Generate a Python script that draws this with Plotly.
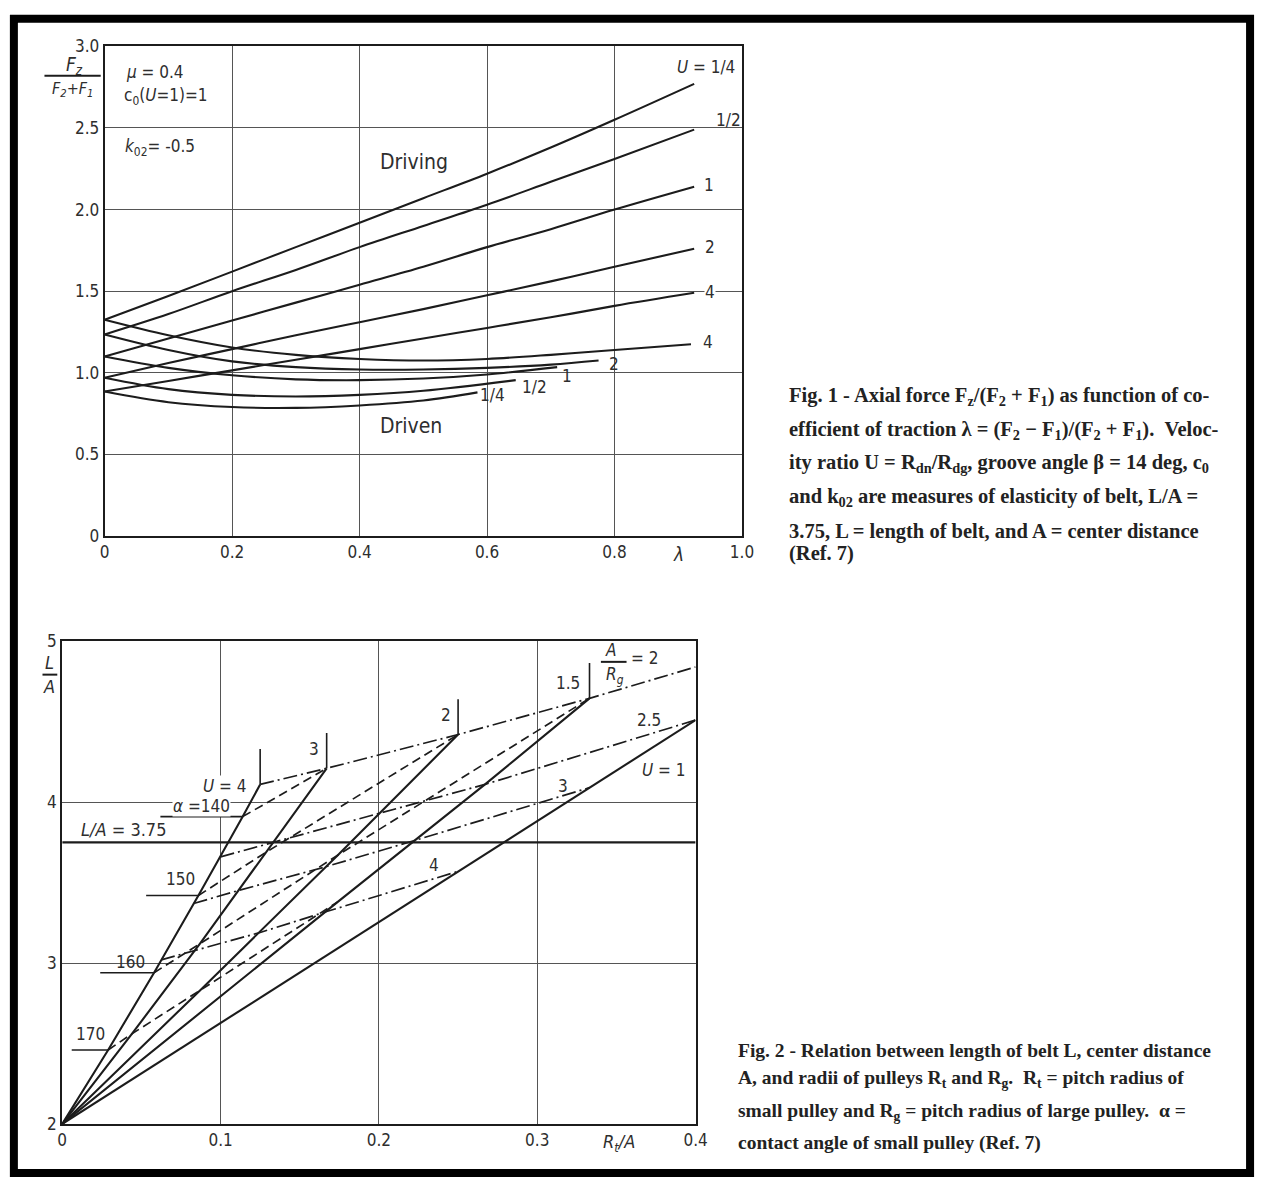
import plotly.graph_objects as go

W, H = 1267, 1190

# ---------------- Fig. 1 data ----------------
lam_driving = [0, 0.1, 0.2, 0.3, 0.4, 0.5, 0.6, 0.7, 0.8, 0.925]
driving_u14 = [1.325, 1.47, 1.62, 1.77, 1.92, 2.07, 2.22, 2.38, 2.55, 2.77]
driving_u12 = [1.235, 1.36, 1.50, 1.63, 1.77, 1.90, 2.03, 2.17, 2.31, 2.49]
driving_u1 = [1.10, 1.21, 1.32, 1.43, 1.54, 1.65, 1.77, 1.88, 2.00, 2.14]
driving_u2 = [0.97, 1.06, 1.145, 1.23, 1.31, 1.39, 1.475, 1.56, 1.65, 1.76]
driving_u4 = [0.885, 0.95, 1.015, 1.08, 1.145, 1.21, 1.275, 1.34, 1.41, 1.49]

driven_u4_x = [0, 0.1, 0.2, 0.3, 0.4, 0.5, 0.6, 0.7, 0.8, 0.92]
driven_u4 = [1.325, 1.23, 1.155, 1.11, 1.085, 1.075, 1.085, 1.11, 1.14, 1.175]
driven_u2_x = [0, 0.1, 0.2, 0.3, 0.4, 0.5, 0.6, 0.7, 0.775]
driven_u2 = [1.235, 1.14, 1.07, 1.035, 1.02, 1.02, 1.03, 1.05, 1.075]
driven_u1_x = [0, 0.1, 0.2, 0.3, 0.4, 0.5, 0.6, 0.71]
driven_u1 = [1.10, 1.03, 0.985, 0.96, 0.955, 0.965, 0.99, 1.035]
driven_u12_x = [0, 0.1, 0.2, 0.3, 0.4, 0.5, 0.645]
driven_u12 = [0.97, 0.90, 0.865, 0.855, 0.865, 0.89, 0.955]
driven_u14_x = [0, 0.1, 0.2, 0.3, 0.4, 0.5, 0.585]
driven_u14 = [0.885, 0.82, 0.79, 0.785, 0.80, 0.83, 0.88]

fig1_xticks = [0, 0.2, 0.4, 0.6, 0.8, 1.0]
fig1_xticktext = ["0", "0.2", "0.4", "0.6", "0.8", "1.0"]
fig1_yticks = [0, 0.5, 1.0, 1.5, 2.0, 2.5, 3.0]
fig1_yticktext = ["0", "0.5", "1.0", "1.5", "2.0", "2.5", "3.0"]

# ---------------- Fig. 2 data ----------------
u4_x = [0, 0.029, 0.058, 0.086, 0.114, 0.125]
u4_y = [2, 2.46, 2.94, 3.42, 3.91, 4.11]
u3_x = [0, 0.044, 0.087, 0.129, 0.167]
u3_y = [2, 2.56, 3.12, 3.69, 4.21]
u2_x = [0, 0.087, 0.174, 0.25]
u2_y = [2, 2.83, 3.67, 4.42]
u15_x = [0, 0.174, 0.267, 0.333]
u15_y = [2, 3.38, 4.11, 4.645]
u1_x = [0, 0.4]
u1_y = [2, 4.51]

arg2_x = [0.125, 0.167, 0.25, 0.333, 0.4]
arg2_y = [4.11, 4.21, 4.42, 4.645, 4.84]
arg25_x = [0.1, 0.133, 0.2, 0.267, 0.4]
arg25_y = [3.66, 3.75, 3.93, 4.11, 4.51]
arg3_x = [0.083, 0.111, 0.167, 0.222, 0.333]
arg3_y = [3.37, 3.45, 3.60, 3.76, 4.09]
arg4_x = [0.0625, 0.083, 0.125, 0.167, 0.25]
arg4_y = [3.02, 3.075, 3.19, 3.32, 3.57]

a140_x = [0.114, 0.167]
a140_y = [3.91, 4.21]
a150_x = [0.086, 0.129, 0.25]
a150_y = [3.42, 3.69, 4.42]
a160_x = [0.058, 0.087, 0.174, 0.333]
a160_y = [2.94, 3.12, 3.67, 4.645]
a170_x = [0.029, 0.044, 0.087, 0.174]
a170_y = [2.46, 2.56, 2.83, 3.38]

LA_ref = 3.75
fig2_xticks = [0, 0.1, 0.2, 0.3, 0.4]
fig2_xticktext = ["0", "0.1", "0.2", "0.3", "0.4"]
fig2_yticks = [2, 3, 4, 5]
fig2_yticktext = ["2", "3", "4", "5"]

# ---------------- styling ----------------
INK = "#1c1c1c"
GRID = "#555555"
TXT = "#2e2e2e"
SANS = "DejaVu Sans Condensed, DejaVu Sans, sans-serif"
SERIF = "Liberation Serif, Times New Roman, serif"
DASH = "9px,5px"
DASHDOT = "14px,4px,2px,4px"

fig = go.Figure()


def line(x, y, xa="x", ya="y", dash="solid", width=2.1, shape="linear"):
    fig.add_trace(go.Scatter(x=x, y=y, mode="lines", xaxis=xa, yaxis=ya,
                             line=dict(color=INK, width=width, dash=dash, shape=shape),
                             showlegend=False, hoverinfo="skip"))


# Fig 1 curves
for ys in [driving_u14, driving_u12, driving_u1, driving_u2, driving_u4]:
    line(lam_driving, ys, shape="spline")
for xs, ys in [(driven_u4_x, driven_u4), (driven_u2_x, driven_u2), (driven_u1_x, driven_u1),
               (driven_u12_x, driven_u12), (driven_u14_x, driven_u14)]:
    line(xs, ys, shape="spline")

# Fig 2 curves
for xs, ys in [(u4_x, u4_y), (u3_x, u3_y), (u2_x, u2_y), (u15_x, u15_y), (u1_x, u1_y)]:
    line(xs, ys, "x2", "y2", width=2.1)
for xs, ys in [(arg2_x, arg2_y), (arg25_x, arg25_y), (arg3_x, arg3_y), (arg4_x, arg4_y)]:
    line(xs, ys, "x2", "y2", dash=DASHDOT, width=1.7)
for xs, ys in [(a140_x, a140_y), (a150_x, a150_y), (a160_x, a160_y), (a170_x, a170_y)]:
    line(xs, ys, "x2", "y2", dash=DASH, width=1.7)

# vertical end ticks on U = 4, 3, 2, 1.5
TICK = 0.22
for xs, ys in [(u4_x, u4_y), (u3_x, u3_y), (u2_x, u2_y), (u15_x, u15_y)]:
    line([xs[-1], xs[-1]], [ys[-1], ys[-1] + TICK], "x2", "y2", width=1.6)

# L/A = 3.75 reference line
line([fig2_xticks[0], fig2_xticks[-1]], [LA_ref, LA_ref], "x2", "y2", width=2.4)

# alpha leaders (to U=4 line)
leader_start = [0.062, 0.053, 0.024, 0.006]
for xs0, xa_, ya_ in zip(leader_start, [a140_x, a150_x, a160_x, a170_x], [a140_y, a150_y, a160_y, a170_y]):
    line([xs0, xa_[0]], [ya_[0], ya_[0]], "x2", "y2", width=1.6)

# ---------------- axes ----------------
axcommon = dict(showline=True, mirror=True, linecolor=INK, linewidth=2,
                showgrid=True, gridcolor=GRID, gridwidth=1.4, zeroline=False,
                ticks="", tickfont=dict(family=SANS, size=17, color=TXT))

fig.update_layout(
    width=W, height=H, margin=dict(l=0, r=0, t=0, b=0),
    paper_bgcolor="white", plot_bgcolor="white",
    xaxis=dict(domain=[101 / W, 747 / W], range=[0, 1.0], tickvals=fig1_xticks,
               ticktext=fig1_xticktext, anchor="y", **axcommon),
    yaxis=dict(domain=[1 - 535 / H, 1 - 37 / H], range=[0, 3.0], tickvals=fig1_yticks,
               ticktext=fig1_yticktext, anchor="x", **axcommon),
    xaxis2=dict(domain=[58 / W, 700 / W], range=[0, 0.4], tickvals=fig2_xticks,
                ticktext=fig2_xticktext, anchor="y2", **axcommon),
    yaxis2=dict(domain=[1 - 1133 / H, 1 - 642 / H], range=[2, 5], tickvals=fig2_yticks,
                ticktext=fig2_yticktext, anchor="x2", **axcommon),
)

anns = []


def ann(text, px, py, size=17, xanchor="center", font=SANS, italic=False, bg=None, color=TXT):
    d = dict(text=("<i>%s</i>" % text) if italic else text, x=px / W, y=1 - py / H,
             xref="paper", yref="paper", showarrow=False, xanchor=xanchor, yanchor="middle",
             font=dict(family=font, size=size, color=color))
    if bg:
        d["bgcolor"] = bg
        d["borderpad"] = 0
    anns.append(d)


shapes = []


def pline(x0, y0, x1, y1, w=1.6):
    shapes.append(dict(type="line", xref="paper", yref="paper", x0=x0 / W, y0=1 - y0 / H,
                       x1=x1 / W, y1=1 - y1 / H, line=dict(color=INK, width=w)))


# frame
shapes.append(dict(type="rect", xref="paper", yref="paper", x0=9 / W, y0=1 - 1183 / H,
                   x1=1262 / W, y1=1 - 9 / H, line=dict(color="black", width=8)))

# --- Fig 1 texts ---
ann("F<sub>z</sub>", 70, 56, 19, italic=True)
pline(40, 67, 97, 67, 2)
ann("F<sub>2</sub>+F<sub>1</sub>", 68, 81, 16, italic=True)
ann("<i>μ</i> = 0.4", 121, 63, 17, "left")
ann("c<sub>0</sub>(<i>U</i>=1)=1", 119, 88, 17, "left")
ann("<i>k</i><sub>02</sub>= -0.5", 120, 140, 17, "left")
ann("Driving", 415, 155, 21)
ann("Driven", 412, 423, 21)
ann("λ", 683, 553, 19, italic=True)

ann("<i>U</i> = 1/4", 742, 58, 17, "right")
ann("1/2", 733, 112, 17)
ann("1", 714, 178, 17)
ann("2", 715, 241, 17)
ann("4", 715, 287, 17, bg="white")
ann("4", 713, 338, 17)
ann("2", 617, 360, 17)
ann("1", 570, 372, 17)
ann("1/2", 537, 383, 17)
ann("1/4", 494, 392, 17)

cap1 = [
    ("Fig. 1 - Axial force F<sub>z</sub>/(F<sub>2</sub> + F<sub>1</sub>) as function of co-", 393),
    ("efficient of traction λ = (F<sub>2</sub> − F<sub>1</sub>)/(F<sub>2</sub> + F<sub>1</sub>).  Veloc-", 428),
    ("ity ratio U = R<sub>dn</sub>/R<sub>dg</sub>, groove angle β = 14 deg, c<sub>0</sub>", 461),
    ("and k<sub>02</sub> are measures of elasticity of belt, L/A =", 496),
    ("3.75, L = length of belt, and A = center distance", 530),
    ("(Ref. 7)", 553),
]
for t, y in cap1:
    ann("<b>%s</b>" % t, 793, y, 20.5, "left", font=SERIF, color="#222")

# --- Fig 2 texts ---
ann("L", 45, 664, 18, italic=True)
pline(38, 676, 53, 676, 2)
ann("A", 45, 688, 18, italic=True)
ann("<i>U</i> = 4", 222, 789, 17, bg="white")
ann("3", 313, 752, 17)
ann("2", 447, 717, 17)
ann("1.5", 571, 684, 17)
ann("A", 614, 651, 17, italic=True)
pline(604, 663, 630, 663, 2)
ann("R<sub>g</sub>", 618, 677, 17, italic=True)
ann("= 2", 648, 659, 17)
ann("2.5", 653, 722, 17)
ann("<i>U</i> = 1", 667, 773, 17)
ann("3", 566, 789, 17)
ann("4", 435, 870, 17)
ann("<i>α</i> =140", 199, 810, 17, bg="white")
ann("<i>L/A</i> = 3.75", 120, 833, 18)
ann("150", 178, 884, 17)
ann("160", 127, 968, 17)
ann("170", 87, 1042, 17)
ann("R<sub>t</sub>/A", 622, 1152, 18, italic=True)

cap2 = [
    ("Fig. 2 - Relation between length of belt L, center distance", 1058),
    ("A, and radii of pulleys R<sub>t</sub> and R<sub>g</sub>.  R<sub>t</sub> = pitch radius of", 1087),
    ("small pulley and R<sub>g</sub> = pitch radius of large pulley.  α =", 1121),
    ("contact angle of small pulley (Ref. 7)", 1152),
]
for t, y in cap2:
    ann("<b>%s</b>" % t, 741, y, 19.5, "left", font=SERIF, color="#222")

fig.update_layout(annotations=anns, shapes=shapes)
fig.write_html("out.html")
